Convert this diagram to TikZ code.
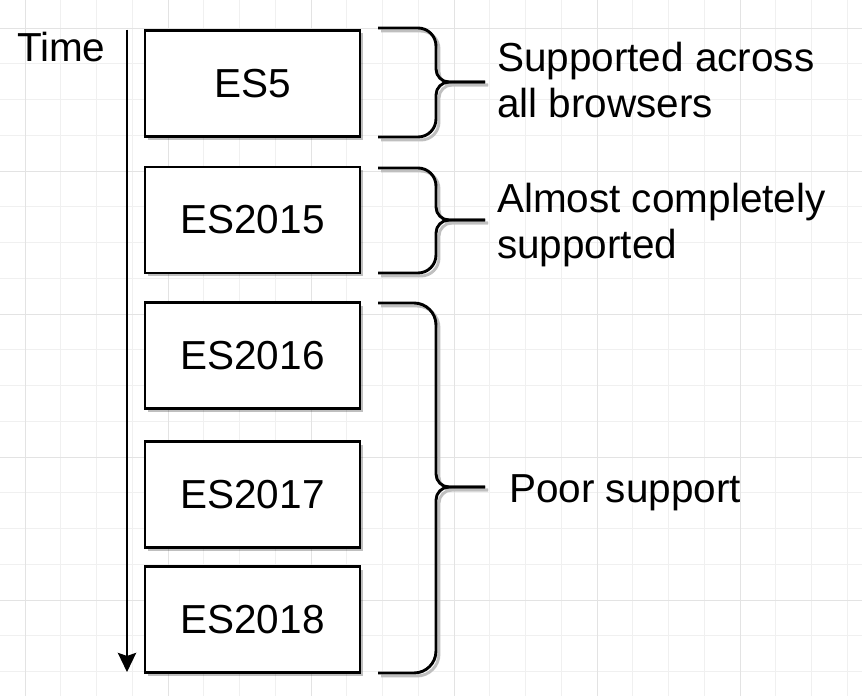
\documentclass[tikz,border=0pt]{standalone}
\usepackage{fontspec}
\setmainfont{Liberation Sans}
\usetikzlibrary{arrows.meta,shadows}
\begin{document}
\begin{tikzpicture}[x=1bp,y=-1bp,
  lbl/.style={font=\fontsize{40.5bp}{46bp}\selectfont, inner sep=0pt, outer sep=0pt},
  esbox/.style={draw=black, line width=2.9bp, fill=white, minimum width=215bp, minimum height=106bp,
    inner sep=0pt, outer sep=0pt, font=\fontsize{40.5bp}{46bp}\selectfont,
    drop shadow={shadow xshift=3bp, shadow yshift=-3bp, fill=black, opacity=0.25}},
  bracepath/.style={draw=black, line width=2.9bp, line join=round},
  braceshadow/.style={draw=black!25, line width=2.9bp, line join=round},
  timeline/.style={draw=black, line width=2.9bp, -{Stealth[length=19bp,width=18bp,inset=3bp]}},
]
\useasboundingbox (0,0) rectangle (862,696);
\fill[white] (0,0) rectangle (862,696);
% grid
\foreach \i in {0,...,24} {
  \pgfmathsetmacro{\gx}{25+35.75*(\i-0)}
  \draw[black!6, line width=0.6bp] (\gx,0) -- (\gx,696);
}
\foreach \i in {0,...,19} {
  \pgfmathsetmacro{\gy}{28+35.75*(\i-0)}
  \draw[black!6, line width=0.6bp] (0,\gy) -- (862,\gy);
}
\foreach \i in {0,...,5} {
  \pgfmathsetmacro{\gx}{25+143*\i}
  \draw[black!11, line width=0.7bp] (\gx,0) -- (\gx,696);
}
\foreach \i in {0,...,4} {
  \pgfmathsetmacro{\gy}{28+143*\i}
  \draw[black!11, line width=0.7bp] (0,\gy) -- (862,\gy);
}

% time arrow
\node[lbl, anchor=base west] (time) at (17,62) {Time};
\coordinate (ta) at (127,30);
\coordinate (tb) at (127,672);
\draw[timeline, draw=black!25, fill=black!25, shift={(3bp,-3bp)}] (ta) -- (tb);
\draw[timeline, fill=black] (ta) -- (tb);

% boxes
\node[esbox] (es5)    at (252.5,83.5)  {ES5};
\node[esbox] (es2015) at (252.5,220)   {ES2015};
\node[esbox] (es2016) at (252.5,355.5) {ES2016};
\node[esbox] (es2017) at (252.5,494.5) {ES2017};
\node[esbox] (es2018) at (252.5,619.5) {ES2018};

% braces
\foreach \t/\m/\b/\r in {28/82/137/18, 168/220/273/18, 303/487/673/22} {
  \begin{scope}[shift={(3bp,-3bp)}]
    \draw[braceshadow, rounded corners=\r bp] (378,\t) -- (436,\t) [rounded corners=13bp] -- (436,\m) -- (485,\m);
    \draw[braceshadow, rounded corners=\r bp] (378,\b) -- (436,\b) [rounded corners=13bp] -- (436,\m) -- (485,\m);
  \end{scope}
  \draw[bracepath, rounded corners=\r bp] (378,\t) -- (436,\t) [rounded corners=13bp] -- (436,\m) -- (485,\m);
  \draw[bracepath, rounded corners=\r bp] (378,\b) -- (436,\b) [rounded corners=13bp] -- (436,\m) -- (485,\m);
}

% labels
\node[lbl, anchor=base west, align=left] (t1) at (497,118) {Supported across\\all browsers};
\node[lbl, anchor=base west, align=left] (t2) at (497,258) {Almost completely\\supported};
\node[lbl, anchor=base west] (t3) at (509,502) {Poor support};
\end{tikzpicture}
\end{document}
